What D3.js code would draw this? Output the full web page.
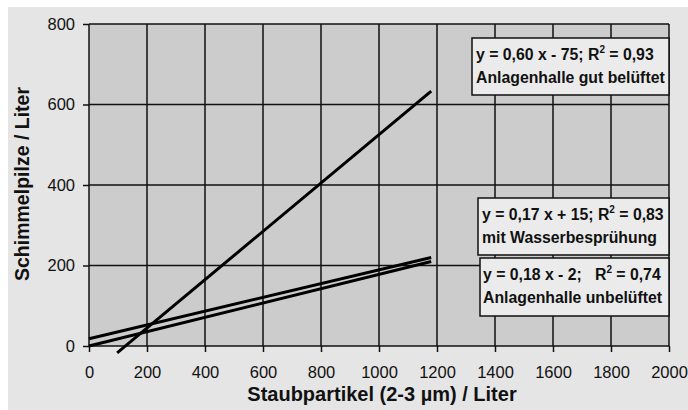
<!DOCTYPE html>
<html>
<head>
<meta charset="utf-8">
<script src="https://d3js.org/d3.v7.min.js"></script>
<style>
body { margin: 0; background: #fff; }
svg text { font-family: "Liberation Sans", Arial, sans-serif; }
</style>
</head>
<body>
<svg id="chart" width="688" height="410"></svg>
<script>
// tick values
var xTicks = [0, 200, 400, 600, 800, 1000, 1200, 1400, 1600, 1800, 2000];
var yTicks = [0, 200, 400, 600, 800];

// fitted lines (start / end points)
var lineX0 = [97, 0, 0];
var lineY0 = [-17, 18, 0];
var lineX1 = [1180, 1180, 1180];
var lineY1 = [633, 220, 210];

// annotation texts
var eqLeft = ["y = 0,60 x - 75; R", "y = 0,17 x + 15; R", "y = 0,18 x - 2;   R"];
var eqRight = [" = 0,93", " = 0,83", " = 0,74"];
var groupNames = ["Anlagenhalle gut belüftet", "mit Wasserbesprühung", "Anlagenhalle unbelüftet"];

var svg = d3.select("#chart");
var plotLeft = 89, plotRight = 669, plotTop = 24, plotBottom = 346;

var x = d3.scaleLinear().domain([0, 2000]).range([plotLeft, plotRight]);
var y = d3.scaleLinear().domain([0, 800]).range([plotBottom, plotTop]);

// outer background
svg.append("rect")
  .attr("x", 8).attr("y", 7)
  .attr("width", 680).attr("height", 403)
  .attr("fill", "#e5e5e5");

// plot area
svg.append("rect")
  .attr("x", plotLeft).attr("y", plotTop)
  .attr("width", plotRight - plotLeft).attr("height", plotBottom - plotTop)
  .attr("fill", "#cccccc");

// grid
svg.selectAll("line.vgrid").data(xTicks).enter().append("line")
  .attr("class", "vgrid")
  .attr("x1", function(d) { return x(d); })
  .attr("x2", function(d) { return x(d); })
  .attr("y1", plotTop).attr("y2", plotBottom)
  .attr("stroke", "#111").attr("stroke-width", 1.5);

svg.selectAll("line.hgrid").data(yTicks).enter().append("line")
  .attr("class", "hgrid")
  .attr("x1", plotLeft).attr("x2", plotRight)
  .attr("y1", function(d) { return y(d); })
  .attr("y2", function(d) { return y(d); })
  .attr("stroke", "#111").attr("stroke-width", 1.5);

// axes
var xAxis = d3.axisBottom(x).tickValues(xTicks).tickSize(6).tickPadding(14).tickFormat(d3.format("d"));
var yAxis = d3.axisLeft(y).tickValues(yTicks).tickSize(6).tickPadding(8).tickFormat(d3.format("d"));

var gx = svg.append("g").attr("transform", "translate(0," + plotBottom + ")").call(xAxis);
var gy = svg.append("g").attr("transform", "translate(" + plotLeft + ",0)").call(yAxis);
[gx, gy].forEach(function(g) {
  g.select(".domain").remove();
  g.selectAll(".tick line").attr("stroke", "#111").attr("stroke-width", 1.5);
  g.selectAll(".tick text")
    .attr("fill", "#111")
    .style("font-size", "16.5px")
    .style("font-family", "'Liberation Sans', Arial, sans-serif");
});

// fitted lines
svg.selectAll("line.fit").data(lineX0).enter().append("line")
  .attr("class", "fit")
  .attr("x1", function(d, i) { return x(lineX0[i]); })
  .attr("y1", function(d, i) { return y(lineY0[i]); })
  .attr("x2", function(d, i) { return x(lineX1[i]); })
  .attr("y2", function(d, i) { return y(lineY1[i]); })
  .attr("stroke", "#000")
  .attr("stroke-width", 3);

// annotation boxes
var boxes = [
  {x: 472, y: 38, w: 197, h: 57, tx: 4},
  {x: 478, y: 198, w: 191, h: 57, tx: 4},
  {x: 480, y: 258, w: 189, h: 58, tx: 3}
];

boxes.forEach(function(b, i) {
  svg.append("rect")
    .attr("x", b.x).attr("y", b.y)
    .attr("width", b.w).attr("height", b.h)
    .attr("fill", "#ebebeb")
    .attr("stroke", "#111").attr("stroke-width", 1.5);

  var t1 = svg.append("text")
    .attr("x", b.x + b.tx).attr("y", b.y + 22)
    .attr("font-size", 15.8).attr("font-weight", "bold")
    .attr("fill", "#111")
    .style("white-space", "pre");
  t1.append("tspan").text(eqLeft[i]);
  t1.append("tspan").attr("dy", -7).attr("font-size", 10).text("2");
  t1.append("tspan").attr("dy", 7).text(eqRight[i]);

  svg.append("text")
    .attr("x", b.x + b.tx).attr("y", b.y + 45)
    .attr("font-size", 15.8).attr("font-weight", "bold")
    .attr("fill", "#111")
    .text(groupNames[i]);
});

// axis titles
svg.append("text")
  .attr("x", 382).attr("y", 401)
  .attr("text-anchor", "middle")
  .attr("font-size", 20).attr("font-weight", "bold")
  .attr("fill", "#111")
  .text("Staubpartikel (2-3 µm) / Liter");

svg.append("text")
  .attr("transform", "translate(29,184) rotate(-90)")
  .attr("text-anchor", "middle")
  .attr("font-size", 19.5).attr("font-weight", "bold")
  .attr("fill", "#111")
  .text("Schimmelpilze / Liter");
</script>
</body>
</html>
